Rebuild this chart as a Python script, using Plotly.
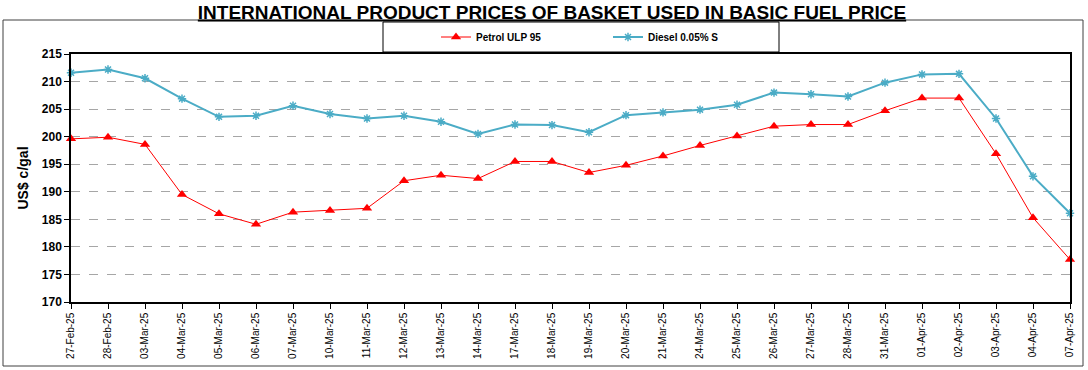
import plotly.graph_objects as go

dates = ["27-Feb-25", "28-Feb-25", "03-Mar-25", "04-Mar-25", "05-Mar-25", "06-Mar-25",
         "07-Mar-25", "10-Mar-25", "11-Mar-25", "12-Mar-25", "13-Mar-25", "14-Mar-25",
         "17-Mar-25", "18-Mar-25", "19-Mar-25", "20-Mar-25", "21-Mar-25", "24-Mar-25",
         "25-Mar-25", "26-Mar-25", "27-Mar-25", "28-Mar-25", "31-Mar-25", "01-Apr-25",
         "02-Apr-25", "03-Apr-25", "04-Apr-25", "07-Apr-25"]

petrol = [199.6, 199.9, 198.6, 189.5, 186.0, 184.1, 186.3, 186.6, 187.0, 192.0,
          193.0, 192.4, 195.5, 195.5, 193.5, 194.8, 196.5, 198.4, 200.1, 201.9,
          202.2, 202.2, 204.7, 207.0, 207.0, 196.9, 185.3, 177.7]

diesel = [211.6, 212.2, 210.6, 206.9, 203.6, 203.8, 205.6, 204.1, 203.3, 203.8,
          202.7, 200.5, 202.2, 202.1, 200.8, 203.9, 204.4, 204.9, 205.8, 208.0,
          207.7, 207.3, 209.8, 211.3, 211.4, 203.3, 192.8, 186.1]

y_ticks = [170, 175, 180, 185, 190, 195, 200, 205, 210, 215]

W, H = 1088, 370
ML, MR, MT, MB = 71, 18, 54, 68
PW, PH = W - ML - MR, H - MT - MB


def px_x(p):
    return (p - ML) / PW


def px_y(p):
    return (H - MB - p) / PH


fig = go.Figure()
fig.add_trace(go.Scatter(
    x=dates, y=petrol, name="<b>Petrol ULP 95</b>", mode="lines+markers",
    line=dict(color="#FF0000", width=1),
    marker=dict(symbol="triangle-up", size=9, color="#FF0000"),
    cliponaxis=False,
))
fig.add_trace(go.Scatter(
    x=dates, y=diesel, name="<b>Diesel 0.05% S</b>", mode="lines+markers",
    line=dict(color="#4BACC6", width=2),
    marker=dict(symbol="asterisk-open", size=7, color="#4BACC6",
                line=dict(color="#4BACC6", width=1.5)),
    cliponaxis=False,
))

# outer frame and legend box
fig.add_shape(type="rect", xref="paper", yref="paper",
              x0=px_x(3), x1=px_x(1083), y0=px_y(366), y1=px_y(20),
              line=dict(color="#404040", width=1), layer="below")
fig.add_shape(type="rect", xref="paper", yref="paper",
              x0=px_x(383), x1=px_x(779), y0=px_y(52), y1=px_y(22),
              line=dict(color="#000000", width=1), layer="below")

fig.update_layout(
    width=W, height=H,
    margin=dict(l=ML, r=MR, t=MT, b=MB, autoexpand=False),
    paper_bgcolor="white", plot_bgcolor="white",
    font=dict(family="Arial, Liberation Sans, sans-serif", color="black"),
    title=dict(
        text="<b>INTERNATIONAL PRODUCT PRICES OF BASKET USED IN BASIC FUEL PRICE</b>",
        x=552 / W, xanchor="center", y=1 - 12 / H, yanchor="middle",
        font=dict(family="Liberation Sans Narrow, Arial Narrow, Arial", size=19,
                  color="black", lineposition="under"),
    ),
    showlegend=True,
    legend=dict(
        orientation="h", x=px_x(608), xanchor="center", y=px_y(37), yanchor="middle",
        font=dict(size=10, family="Arial, Liberation Sans, sans-serif"),
        bgcolor="rgba(0,0,0,0)", borderwidth=0, entrywidth=127,
        itemwidth=30,
    ),
    xaxis=dict(
        type="category", categoryorder="array", categoryarray=dates,
        range=[0, len(dates) - 1],
        tickangle=-90, tickfont=dict(size=10),
        ticks="outside", ticklen=5, tickcolor="black",
        showline=True, linecolor="black", linewidth=1.5, mirror=True,
        showgrid=False, zeroline=False,
    ),
    yaxis=dict(
        range=[170, 215], tickvals=y_ticks,
        ticktext=["<b>%d</b>" % v for v in y_ticks],
        tickfont=dict(size=12),
        ticks="outside", ticklen=5, tickcolor="black",
        showline=True, linecolor="black", linewidth=1.5, mirror=True,
        showgrid=True, gridcolor="#a6a6a6", griddash="dash", gridwidth=1,
        zeroline=False,
        title=dict(text="<b>US$ c/gal</b>", font=dict(size=14), standoff=10),
    ),
)

fig.write_html("out.html", config={"displayModeBar": False},
               post_script="document.body.style.margin='0';")
